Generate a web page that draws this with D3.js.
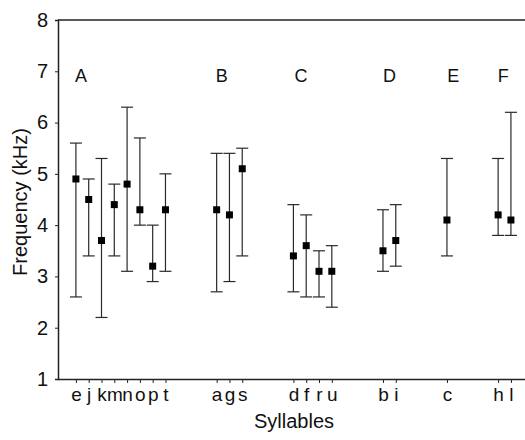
<!DOCTYPE html>
<html>
<head>
<meta charset="utf-8">
<script src="https://cdn.jsdelivr.net/npm/d3@7"></script>
<style>
  body { margin: 0; background: #fff; }
  text { font-family: "Liberation Sans", Arial, sans-serif; }
</style>
</head>
<body>
<svg id="canvas" width="525" height="440"></svg>
<script>
// syllables, their slot on the x axis and the mean / range in kHz
let syllables = ['e', 'j', 'k', 'm', 'n', 'o', 'p', 't', 'a', 'g', 's', 'd', 'f', 'r', 'u', 'b', 'i', 'c', 'h', 'l']
let slots = [0, 1, 2, 3, 4, 5, 6, 7, 11, 12, 13, 17, 18, 19, 20, 24, 25, 29, 33, 34]
let means = [4.9, 4.5, 3.7, 4.4, 4.8, 4.3, 3.2, 4.3, 4.3, 4.2, 5.1, 3.4, 3.6, 3.1, 3.1, 3.5, 3.7, 4.1, 4.2, 4.1]
let lows = [2.6, 3.4, 2.2, 3.4, 3.1, 4.0, 2.9, 3.1, 2.7, 2.9, 3.4, 2.7, 2.6, 2.6, 2.4, 3.1, 3.2, 3.4, 3.8, 3.8]
let highs = [5.6, 4.9, 5.3, 4.8, 6.3, 5.7, 4.0, 5.0, 5.4, 5.4, 5.5, 4.4, 4.2, 3.5, 3.6, 4.3, 4.4, 5.3, 5.3, 6.2]

let groupNames = ['A', 'B', 'C', 'D', 'E', 'F']
let groupSlots = [0.4, 11.4, 17.6, 24.5, 29.5, 33.4]
let groupLevel = 7

let yTicks = [1, 2, 3, 4, 5, 6, 7, 8]

let canvas = d3.select('#canvas')

let xScale = d3.scaleLinear().domain([-1.4, 35.1]).range([58, 525])
let yScale = d3.scaleLinear().domain([1, 8]).range([379, 20])

let capHalf = 6
let markSize = 7
let font = '"Liberation Sans", Arial, sans-serif'

// frame: top line
canvas.append('line')
    .attr('x1', xScale.range()[0]).attr('x2', xScale.range()[1])
    .attr('y1', yScale(8)).attr('y2', yScale(8))
    .attr('stroke', '#222').attr('stroke-width', 1.5)

let yAxis = d3.axisLeft(yScale).tickValues(yTicks).tickFormat(d3.format('d'))
    .tickSize(3).tickPadding(7)
let gy = canvas.append('g').attr('transform', 'translate(' + xScale.range()[0] + ',0)').call(yAxis)
gy.select('.domain').attr('stroke', '#222').attr('stroke-width', 1.5)
gy.selectAll('.tick line').attr('stroke', '#222')
gy.selectAll('.tick text').attr('font-size', 20).attr('fill', '#111').style('font-family', font)

let xAxis = d3.axisBottom(xScale).tickValues(slots)
    .tickFormat((d, i) => syllables[i])
    .tickSize(4).tickPadding(5).tickSizeOuter(0)
let gx = canvas.append('g').attr('transform', 'translate(0,' + yScale(1) + ')').call(xAxis)
gx.select('.domain').attr('stroke', '#222').attr('stroke-width', 1.5)
gx.selectAll('.tick line').attr('stroke', '#222')
gx.selectAll('.tick text').attr('font-size', 19).attr('fill', '#111').style('font-family', font)

// error bars
let bars = canvas.append('g')
    .selectAll('g')
    .data(syllables.map((s, i) => ({ s: s, x: slots[i], m: means[i], lo: lows[i], hi: highs[i] })))
    .enter()
    .append('g')
    .attr('stroke', '#2a2a2a')
    .attr('stroke-width', 1.2)

bars.append('line')
    .attr('x1', (d) => xScale(d.x)).attr('x2', (d) => xScale(d.x))
    .attr('y1', (d) => yScale(d.lo)).attr('y2', (d) => yScale(d.hi))
bars.append('line')
    .attr('x1', (d) => xScale(d.x) - capHalf).attr('x2', (d) => xScale(d.x) + capHalf)
    .attr('y1', (d) => yScale(d.hi)).attr('y2', (d) => yScale(d.hi))
bars.append('line')
    .attr('x1', (d) => xScale(d.x) - capHalf).attr('x2', (d) => xScale(d.x) + capHalf)
    .attr('y1', (d) => yScale(d.lo)).attr('y2', (d) => yScale(d.lo))
bars.append('rect')
    .attr('x', (d) => xScale(d.x) - markSize / 2)
    .attr('y', (d) => yScale(d.m) - markSize / 2)
    .attr('width', markSize).attr('height', markSize)
    .attr('fill', '#000').attr('stroke', 'none')

// group letters
canvas.append('g')
    .selectAll('text')
    .data(groupNames)
    .enter()
    .append('text')
    .text((d) => d)
    .attr('x', (d, i) => xScale(groupSlots[i]))
    .attr('y', yScale(groupLevel) + 11)
    .attr('text-anchor', 'middle')
    .attr('font-size', 18)
    .attr('fill', '#111')

// axis titles
canvas.append('text')
    .text('Syllables')
    .attr('x', 294).attr('y', 428)
    .attr('text-anchor', 'middle')
    .attr('font-size', 20)
    .attr('fill', '#111')

canvas.append('text')
    .text('Frequency (kHz)')
    .attr('transform', 'translate(27,202) rotate(-90)')
    .attr('text-anchor', 'middle')
    .attr('font-size', 20)
    .attr('fill', '#111')
</script>
</body>
</html>
